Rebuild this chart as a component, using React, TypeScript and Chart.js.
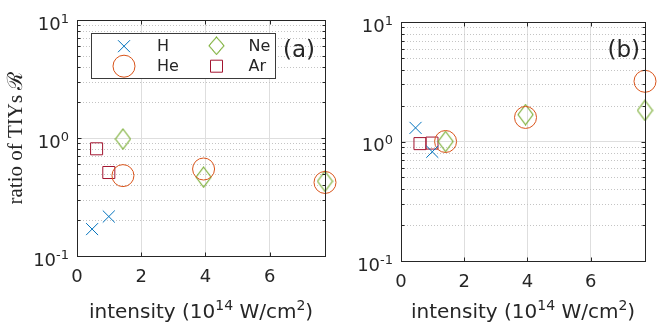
import React, { useEffect, useRef } from 'react';
import { Chart, registerables } from 'chart.js';

Chart.register(...registerables);

// ---------- data ----------
const seriesNames = ['H', 'He', 'Ne', 'Ar'];
const seriesColors = ['#0072BD', '#D95319', '#77AC30', '#A2142F'];

const xTicks = [0, 2, 4, 6];
const yTicks = [0.1, 1, 10];
const yTickExponents = ['-1', '0', '1'];
const xMax = 7.72;

// panel (a)
const hA_x = [0.47, 0.99];
const hA_y = [0.169, 0.216];
const heA_x = [1.43, 3.94, 7.72];
const heA_y = [0.48, 0.546, 0.42];
const neA_x = [1.43, 3.94, 7.72];
const neA_y = [0.98, 0.466, 0.43];
const arA_x = [0.61, 0.99];
const arA_y = [0.81, 0.51];

// panel (b)
const hB_x = [0.46, 0.99];
const hB_y = [1.3, 0.82];
const heB_x = [1.41, 3.94, 7.72];
const heB_y = [1.0, 1.59, 3.19];
const neB_x = [1.41, 3.94, 7.72];
const neB_y = [1.0, 1.68, 1.82];
const arB_x = [0.6, 0.98];
const arB_y = [0.96, 0.97];

const xTitleParts = [
  { t: 'intensity (10', sup: false },
  { t: '14', sup: true },
  { t: ' W/cm', sup: false },
  { t: '2', sup: true },
  { t: ')', sup: false },
];
const yTitle = 'ratio of TIYs \u211B';

// ---------- helpers ----------
const SANS = "'DejaVu Sans', sans-serif";
const AXIS_COLOR = '#262626';

function zip(xs: number[], ys: number[]) {
  return xs.map((x, i) => ({ x, y: ys[i] }));
}

function makeDiamond(color: string) {
  const c = document.createElement('canvas');
  c.width = 17;
  c.height = 22;
  const ctx = c.getContext('2d')!;
  ctx.strokeStyle = color;
  ctx.lineWidth = 1.1;
  ctx.beginPath();
  ctx.moveTo(8.5, 1);
  ctx.lineTo(16, 11);
  ctx.lineTo(8.5, 21);
  ctx.lineTo(1, 11);
  ctx.closePath();
  ctx.stroke();
  return c;
}

function drawMarker(ctx: CanvasRenderingContext2D, idx: number, x: number, y: number, diamond: HTMLCanvasElement) {
  const color = seriesColors[idx];
  ctx.save();
  ctx.strokeStyle = color;
  ctx.lineWidth = 1;
  ctx.beginPath();
  if (idx === 0) {
    ctx.moveTo(x - 6, y - 6);
    ctx.lineTo(x + 6, y + 6);
    ctx.moveTo(x - 6, y + 6);
    ctx.lineTo(x + 6, y - 6);
    ctx.stroke();
  } else if (idx === 1) {
    ctx.arc(x, y, 11, 0, Math.PI * 2);
    ctx.stroke();
  } else if (idx === 2) {
    ctx.drawImage(diamond, x - diamond.width / 2, y - diamond.height / 2 + 1, diamond.width, diamond.height - 3);
  } else {
    ctx.rect(x - 6, y - 6, 12, 12);
    ctx.stroke();
  }
  ctx.restore();
}

type Parts = { t: string; sup: boolean }[];

function drawSupText(
  ctx: CanvasRenderingContext2D,
  parts: Parts,
  x: number,
  y: number,
  align: 'left' | 'right' | 'center',
  mainSize: number,
  supSize: number,
  rise: number,
) {
  const mainFont = `${mainSize}px ${SANS}`;
  const supFont = `${supSize}px ${SANS}`;
  let total = 0;
  const widths = parts.map((p) => {
    ctx.font = p.sup ? supFont : mainFont;
    const w = ctx.measureText(p.t).width;
    total += w;
    return w;
  });
  let cx = align === 'left' ? x : align === 'right' ? x - total : x - total / 2;
  ctx.textAlign = 'left';
  ctx.textBaseline = 'alphabetic';
  parts.forEach((p, i) => {
    ctx.font = p.sup ? supFont : mainFont;
    ctx.fillText(p.t, cx, p.sup ? y - rise : y);
    cx += widths[i];
  });
}

const panelPlugin = {
  id: 'panelDeco',
  beforeDatasetsDraw(chart: any) {
    const o = chart.options.plugins.panelDeco;
    const { ctx, chartArea: a } = chart;
    const ys = chart.scales.y;
    ctx.save();
    ctx.strokeStyle = '#c4c4c4';
    ctx.lineWidth = 1;
    ctx.setLineDash([1, 2]);
    for (let d = 0; d < yTicks.length - 1; d++) {
      for (let k = 2; k <= 9; k++) {
        const py = Math.round(ys.getPixelForValue(yTicks[d] * k)) + 0.5;
        ctx.beginPath();
        ctx.moveTo(a.left, py);
        ctx.lineTo(a.right, py);
        ctx.stroke();
      }
    }
    ctx.restore();
    void o;
  },
  afterDatasetsDraw(chart: any) {
    const o = chart.options.plugins.panelDeco;
    const { ctx, chartArea: a } = chart;
    const xs = chart.scales.x;
    const ys = chart.scales.y;
    const L = Math.round(a.left) + 0.5;
    const R = Math.round(a.right) + 0.5;
    const T = Math.round(a.top) + 0.5;
    const B = Math.round(a.bottom) + 0.5;
    ctx.save();
    // box
    ctx.strokeStyle = AXIS_COLOR;
    ctx.lineWidth = 1;
    ctx.setLineDash([]);
    ctx.strokeRect(L, T, R - L, B - T);
    // ticks
    ctx.beginPath();
    xTicks.forEach((v) => {
      const px = Math.round(xs.getPixelForValue(v)) + 0.5;
      ctx.moveTo(px, B);
      ctx.lineTo(px, B - 4);
      ctx.moveTo(px, T);
      ctx.lineTo(px, T + 4);
    });
    for (let d = 0; d < yTicks.length; d++) {
      const ks = d < yTicks.length - 1 ? [1, 2, 3, 4, 5, 6, 7, 8, 9] : [1];
      ks.forEach((k) => {
        const py = Math.round(ys.getPixelForValue(yTicks[d] * k)) + 0.5;
        const len = k === 1 ? 4 : 3;
        ctx.moveTo(L, py);
        ctx.lineTo(L + len, py);
        ctx.moveTo(R, py);
        ctx.lineTo(R - len, py);
      });
    }
    ctx.stroke();

    ctx.fillStyle = AXIS_COLOR;
    // y tick labels
    yTicks.forEach((v, i) => {
      const py = ys.getPixelForValue(v);
      drawSupText(ctx, [{ t: '10', sup: false }, { t: yTickExponents[i], sup: true }], a.left - 8, py + 9.5, 'right', 18, 13, 7);
    });
    // x tick labels
    ctx.font = `18px ${SANS}`;
    ctx.textAlign = 'center';
    ctx.textBaseline = 'alphabetic';
    xTicks.forEach((v) => {
      ctx.fillText(String(v), xs.getPixelForValue(v), a.bottom + 26);
    });
    // x title
    drawSupText(ctx, xTitleParts, (a.left + a.right) / 2, 318, 'center', 20, 14, 8);
    // y title
    if (o.yTitle) {
      ctx.save();
      ctx.translate(22, (a.top + a.bottom) / 2);
      ctx.rotate(-Math.PI / 2);
      ctx.font = `21px 'Liberation Serif', 'DejaVu Serif', serif`;
      ctx.textAlign = 'center';
      ctx.textBaseline = 'alphabetic';
      ctx.fillText(yTitle, 0, 0);
      ctx.restore();
    }
    // panel label
    ctx.font = `23px ${SANS}`;
    ctx.textAlign = 'right';
    ctx.textBaseline = 'middle';
    ctx.fillText(o.label, a.right - o.labelGap, 51);

    // legend
    if (o.legend) {
      const bx = 91.5;
      const by = 33.5;
      const bw = 184;
      const bh = 45;
      ctx.fillStyle = '#ffffff';
      ctx.fillRect(bx, by, bw, bh);
      ctx.strokeStyle = '#3a3a3a';
      ctx.strokeRect(bx, by, bw, bh);
      const colMarker = [32.5, 125];
      const colText = [65.5, 157];
      const rowY = [12.7, 32.7];
      const pos = [
        [0, 0],
        [0, 1],
        [1, 0],
        [1, 1],
      ];
      seriesNames.forEach((name, i) => {
        const [c, r] = pos[i];
        drawMarker(ctx, i, bx + colMarker[c], by + rowY[r], o.diamonds[i] || o.diamonds[2]);
        ctx.fillStyle = AXIS_COLOR;
        ctx.font = `16px ${SANS}`;
        ctx.textAlign = 'left';
        ctx.textBaseline = 'middle';
        ctx.fillText(name, bx + colText[c], by + rowY[r] + 1);
      });
    }
    ctx.restore();
  },
};

type PanelSpec = {
  series: { x: number[]; y: number[] }[];
  area: { left: number; right: number; top: number; bottom: number };
  width: number;
  label: string;
  labelGap: number;
  legend: boolean;
  yTitle: boolean;
};

function makeChart(canvas: HTMLCanvasElement, spec: PanelSpec) {
  const diamond = makeDiamond(seriesColors[2]);
  const styles: any[] = ['crossRot', 'circle', diamond, 'rect'];
  const radii = [8.5, 11, 10, 8.5];
  const datasets = spec.series.map((s, i) => ({
    label: seriesNames[i],
    data: zip(s.x, s.y),
    pointStyle: styles[i],
    pointRadius: radii[i],
    pointHoverRadius: radii[i],
    borderColor: seriesColors[i],
    pointBorderColor: seriesColors[i],
    backgroundColor: 'rgba(0,0,0,0)',
    pointBackgroundColor: 'rgba(0,0,0,0)',
    borderWidth: 1,
    pointBorderWidth: 1,
    showLine: false,
    clip: false as any,
  }));
  return new Chart(canvas, {
    type: 'scatter',
    data: { datasets },
    plugins: [panelPlugin as any],
    options: {
      animation: false,
      responsive: false,
      events: [],
      layout: {
        padding: {
          left: 0,
          top: spec.area.top,
          right: spec.width - spec.area.right,
          bottom: 0,
        },
      },
      scales: {
        x: {
          type: 'linear',
          min: 0,
          max: xMax,
          afterBuildTicks: (s: any) => {
            s.ticks = xTicks.map((v) => ({ value: v }));
          },
          afterFit: (s: any) => {
            s.height = 326 - spec.area.bottom;
          },
          ticks: { display: false },
          grid: { color: '#dedede', drawTicks: false, lineWidth: 1 },
          border: { display: false },
        },
        y: {
          type: 'logarithmic',
          min: 0.1,
          max: 10,
          afterBuildTicks: (s: any) => {
            s.ticks = yTicks.map((v) => ({ value: v, major: true }));
          },
          afterFit: (s: any) => {
            s.width = spec.area.left;
          },
          ticks: { display: false },
          grid: { color: '#dedede', drawTicks: false, lineWidth: 1 },
          border: { display: false },
        },
      },
      plugins: {
        legend: { display: false },
        tooltip: { enabled: false },
        panelDeco: {
          label: spec.label,
          labelGap: spec.labelGap,
          legend: spec.legend,
          yTitle: spec.yTitle,
          diamonds: [diamond, diamond, diamond, diamond],
        },
      } as any,
    },
  });
}

const specA: PanelSpec = {
  series: [
    { x: hA_x, y: hA_y },
    { x: heA_x, y: heA_y },
    { x: neA_x, y: neA_y },
    { x: arA_x, y: arA_y },
  ],
  area: { left: 77, right: 325, top: 20, bottom: 256 },
  width: 340,
  label: '(a)',
  labelGap: 10,
  legend: true,
  yTitle: true,
};

const specB: PanelSpec = {
  series: [
    { x: hB_x, y: hB_y },
    { x: heB_x, y: heB_y },
    { x: neB_x, y: neB_y },
    { x: arB_x, y: arB_y },
  ],
  area: { left: 61, right: 308, top: 22, bottom: 261 },
  width: 317,
  label: '(b)',
  labelGap: 5,
  legend: false,
  yTitle: false,
};

function Panel({ spec, left }: { spec: PanelSpec; left: number }) {
  const ref = useRef<HTMLCanvasElement | null>(null);
  useEffect(() => {
    if (!ref.current) return;
    const chart = makeChart(ref.current, spec);
    return () => chart.destroy();
  }, [spec]);
  return (
    <canvas
      ref={ref}
      width={spec.width}
      height={326}
      style={{ position: 'absolute', left, top: 0, width: spec.width, height: 326 }}
    />
  );
}

export default function App() {
  return (
    <div style={{ position: 'fixed', left: 0, top: 0, width: 657, height: 326, background: '#ffffff', overflow: 'hidden' }}>
      <Panel spec={specA} left={0} />
      <Panel spec={specB} left={340} />
    </div>
  );
}
